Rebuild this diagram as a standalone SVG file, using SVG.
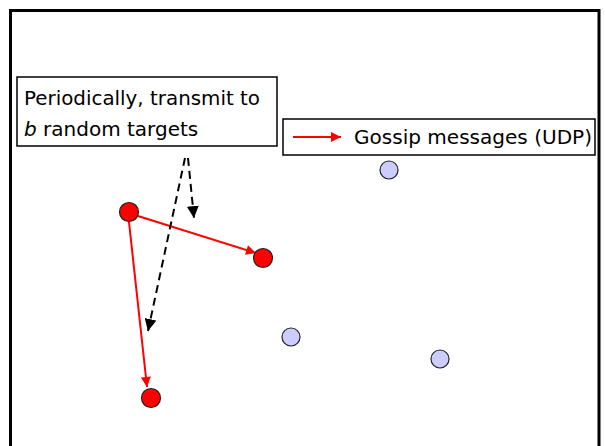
<svg xmlns="http://www.w3.org/2000/svg" width="605" height="446" viewBox="0 0 605 446">
  <style>
    .frame { fill: #fff; stroke: #000; stroke-width: 3; }
    .box { fill: #fff; stroke: #000; stroke-width: 1.5; }
    .label { font-family: "DejaVu Sans", Verdana, sans-serif; font-size: 20px; fill: #000; }
    .sent { fill: #ff0000; stroke: #222; stroke-width: 1.2; }
    .idle { fill: #ccccff; stroke: #222; stroke-width: 1.2; }
    .gossip { stroke: #ff0000; stroke-width: 2; fill: none; marker-end: url(#redHead); }
    .pointer { stroke: #000; stroke-width: 2; stroke-dasharray: 8 5; fill: none; marker-end: url(#blackHead); }
  </style>
  <defs>
    <marker id="redHead" viewBox="0 0 10 10" refX="10" refY="5" markerWidth="5.5" markerHeight="5" orient="auto" markerUnits="strokeWidth">
      <path d="M0,0 L10,5 L0,10 Z" fill="#ff0000"/>
    </marker>
    <marker id="blackHead" viewBox="0 0 10 10" refX="10" refY="5" markerWidth="6" markerHeight="6" orient="auto" markerUnits="strokeWidth">
      <path d="M0,0 L10,5 L0,10 Z" fill="#000"/>
    </marker>
  </defs>

  <rect class="frame" x="10.5" y="10.5" width="588.5" height="460"/>

  <g id="connectors">
    <line class="gossip" x1="138" y1="216" x2="256" y2="253"/>
    <line class="gossip" x1="129" y1="222" x2="147" y2="387"/>
    <line class="pointer" x1="188" y1="158" x2="194" y2="218"/>
    <line class="pointer" x1="185" y1="158" x2="148" y2="331"/>
  </g>

  <g id="note">
    <rect class="box" x="17" y="77" width="260" height="69"/>
    <text class="label" x="24" y="105" textLength="236" lengthAdjust="spacingAndGlyphs">Periodically, transmit to</text>
    <text class="label" x="24" y="136"><tspan font-style="italic">b</tspan> random targets</text>
  </g>

  <g id="legend">
    <rect class="box" x="283" y="119" width="312" height="36"/>
    <line class="gossip" x1="293" y1="137" x2="341" y2="137"/>
    <text class="label" x="354" y="144" textLength="238" lengthAdjust="spacingAndGlyphs">Gossip messages (UDP)</text>
  </g>

  <g id="node-a"><circle class="sent" cx="129" cy="212" r="9.5"/></g>
  <g id="node-b"><circle class="sent" cx="263" cy="258" r="9.5"/></g>
  <g id="node-c"><circle class="sent" cx="151" cy="398" r="9.5"/></g>
  <g id="node-d"><circle class="idle" cx="389" cy="170" r="9"/></g>
  <g id="node-e"><circle class="idle" cx="291" cy="337" r="9"/></g>
  <g id="node-f"><circle class="idle" cx="440" cy="359" r="9"/></g>
</svg>
